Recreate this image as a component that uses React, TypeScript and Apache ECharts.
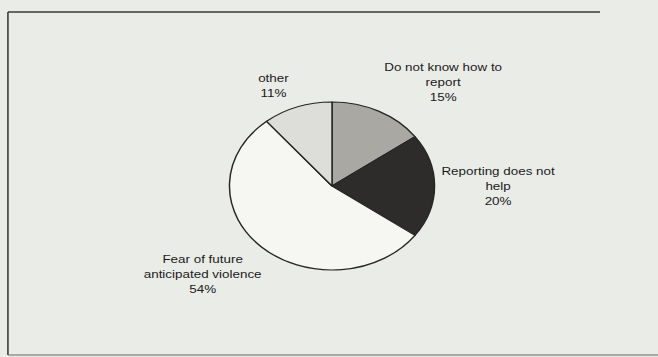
import React, { useEffect, useRef } from "react";
import * as echarts from "echarts";

// Data
const categories = [
  "Do not know how to\nreport",
  "Reporting does not\nhelp",
  "Fear of future\nanticipated violence",
  "other",
];
const shares = [15, 20, 54, 11];
const sliceColors = ["#a9a8a3", "#2d2c2a", "#f6f7f3", "#dddeda"];

// Label anchor positions (chart space, before horizontal stretch)
const labelPositions: [number, number][] = [
  [363, 82],
  [408, 186],
  [166, 274],
  [224, 86],
];

const PAGE_W = 658;
const PAGE_H = 357;
const CHART_W = 539;
const STRETCH = PAGE_W / CHART_W;

export default function App() {
  const ref = useRef<HTMLDivElement>(null);

  useEffect(() => {
    if (!ref.current) return;
    const chart = echarts.init(ref.current, undefined, { renderer: "svg" });
    const frameStyle = { stroke: "#3a3a3a", lineWidth: 1.3 };
    chart.setOption({
      animation: false,
      backgroundColor: "#eaece8",
      graphic: [
        {
          type: "line",
          shape: { x1: 6.5, y1: 12, x2: 6.5, y2: 355 },
          style: frameStyle,
          silent: true,
        },
        {
          type: "line",
          shape: { x1: 6.5, y1: 12, x2: 600 / STRETCH, y2: 12 },
          style: frameStyle,
          silent: true,
        },
        {
          type: "line",
          shape: { x1: 6.5, y1: 355, x2: CHART_W, y2: 355 },
          style: { stroke: "#6a6a6a", lineWidth: 1 },
          silent: true,
        },
      ],
      series: [
        {
          type: "pie",
          center: [332 / STRETCH, 186],
          radius: 84,
          startAngle: 90,
          clockwise: true,
          avoidLabelOverlap: false,
          data: categories.map((name, i) => ({
            name,
            value: shares[i],
            itemStyle: { color: sliceColors[i] },
          })),
          itemStyle: { borderColor: "#262626", borderWidth: 1.2 },
          label: {
            show: true,
            position: "outside",
            formatter: "{b}\n{c}%",
            fontFamily: "Liberation Sans, Arial, sans-serif",
            fontSize: 11,
            lineHeight: 15,
            color: "#1a1a1a",
            align: "center",
          },
          labelLine: { show: false },
          labelLayout: (params: any) => {
            const p = labelPositions[params.dataIndex];
            return { x: p[0], y: p[1], align: "center", verticalAlign: "middle" };
          },
          emphasis: { disabled: true },
        },
      ],
    });
    return () => chart.dispose();
  }, []);

  return (
    <div
      ref={ref}
      style={{
        position: "fixed",
        left: 0,
        top: 0,
        width: CHART_W,
        height: PAGE_H,
        transform: `scaleX(${STRETCH})`,
        transformOrigin: "0 0",
      }}
    />
  );
}
